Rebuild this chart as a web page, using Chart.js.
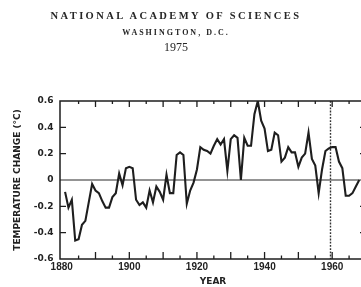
<!DOCTYPE html>
<html>
<head>
<meta charset="utf-8">
<script src="https://cdn.jsdelivr.net/npm/chart.js@4.4.1/dist/chart.umd.min.js"></script>
<style>
html,body{margin:0;padding:0;background:#fff;overflow:hidden;width:361px;height:287px;}
#wrap{position:absolute;left:0;top:0;width:380px;height:287px;}
.h{position:absolute;left:0;width:352px;text-align:center;color:#262626;font-family:"Liberation Serif","Times New Roman",serif;white-space:nowrap;z-index:2;}
#h1{top:10px;font-size:10.5px;line-height:12px;font-weight:bold;letter-spacing:2.4px;}
#h2{top:28.3px;font-size:8px;line-height:10px;font-weight:bold;letter-spacing:2px;}
#h3{top:39.8px;font-size:12px;line-height:14px;}
</style>
</head>
<body>
<div class="h" id="h1">NATIONAL ACADEMY OF SCIENCES</div>
<div class="h" id="h2">WASHINGTON, D.C.</div>
<div class="h" id="h3">1975</div>
<div id="wrap"><canvas id="c" width="380" height="287"></canvas></div>
<script>
// ---- data ----
const years = [1881,1882,1883,1884,1885,1886,1887,1888,1889,1890,
  1891,1892,1893,1894,1895,1896,1897,1898,1899,1900,
  1901,1902,1903,1904,1905,1906,1907,1908,1909,1910,
  1911,1912,1913,1914,1915,1916,1917,1918,1919,1920,
  1921,1922,1923,1924,1925,1926,1927,1928,1929,1930,
  1931,1932,1933,1934,1935,1936,1937,1938,1939,1940,
  1941,1942,1943,1944,1945,1946,1947,1948,1949,1950,
  1951,1952,1953,1954,1955,1956,1957,1958,1959,1960,
  1961,1962,1963,1964,1965,1966,1967,1968];
const tempChange = [-0.09,-0.21,-0.15,-0.46,-0.45,-0.34,-0.31,-0.17,-0.03,-0.08,
  -0.10,-0.16,-0.21,-0.21,-0.13,-0.10,0.05,-0.04,0.09,0.10,
  0.09,-0.15,-0.19,-0.17,-0.21,-0.08,-0.17,-0.05,-0.09,-0.15,
  0.04,-0.10,-0.10,0.19,0.21,0.19,-0.18,-0.08,-0.02,0.08,
  0.25,0.23,0.22,0.20,0.26,0.31,0.27,0.31,0.07,0.31,
  0.34,0.32,0.00,0.32,0.26,0.26,0.50,0.60,0.45,0.39,
  0.22,0.23,0.36,0.34,0.14,0.17,0.25,0.21,0.21,0.10,
  0.17,0.20,0.36,0.16,0.11,-0.10,0.08,0.22,0.24,0.25,
  0.25,0.14,0.09,-0.12,-0.12,-0.10,-0.05,0.00];
const xLabelYears = [1880,1900,1920,1940,1960];
const xMarkYears = [1885,1890,1895,1900,1905,1910,1915,1920,1925,1930,1935,1940,1945,1950,1955,1960,1965];
const yTickValues = [-0.6,-0.4,-0.2,0,0.2,0.4,0.6];
const yMarkValues = [-0.4,-0.2,0.2,0.4];
const xRange = [1879.5, 1970];
const yRange = [-0.6, 0.6];
const markerYear = 1959.5;

const INK = '#1e1e1e';

const decor = {
  id: 'decor',
  beforeDatasetsDraw(chart) {
    const {ctx, chartArea: {left, right, top, bottom}, scales: {x, y}} = chart;
    ctx.save();
    // zero line
    const y0 = y.getPixelForValue(0);
    ctx.strokeStyle = '#2a2a2a';
    ctx.lineWidth = 1.1;
    ctx.beginPath(); ctx.moveTo(left, y0); ctx.lineTo(right, y0); ctx.stroke();
    // dotted marker
    const xm = x.getPixelForValue(markerYear);
    ctx.setLineDash([1.8, 1.4]);
    ctx.lineWidth = 1.4;
    ctx.strokeStyle = '#333';
    ctx.beginPath(); ctx.moveTo(xm, top); ctx.lineTo(xm, bottom); ctx.stroke();
    ctx.restore();
  },
  afterDatasetsDraw(chart) {
    const {ctx, chartArea: {left, right, top, bottom}, scales: {x, y}} = chart;
    ctx.save();
    ctx.strokeStyle = INK;
    ctx.lineWidth = 1.5;
    ctx.strokeRect(left, top, right - left, bottom - top);
    ctx.lineWidth = 1.3;
    ctx.beginPath();
    xMarkYears.forEach(yr => {
      const px = x.getPixelForValue(yr);
      const major = yr % 10 === 0;
      ctx.moveTo(px, bottom); ctx.lineTo(px, bottom - (major ? 7 : 3.5));
      ctx.moveTo(px, top); ctx.lineTo(px, top + (major ? 6 : 3));
    });
    yMarkValues.forEach(v => {
      const py = y.getPixelForValue(v);
      ctx.moveTo(left, py); ctx.lineTo(left + 6, py);
      ctx.moveTo(right, py); ctx.lineTo(right - 6, py);
    });
    ctx.stroke();
    ctx.restore();
  }
};

new Chart(document.getElementById('c'), {
  type: 'line',
  data: {
    datasets: [{
      data: years.map((yr, i) => ({x: yr, y: tempChange[i]})),
      borderColor: INK,
      borderWidth: 2.1,
      pointRadius: 0,
      tension: 0,
      fill: false
    }]
  },
  options: {
    responsive: false,
    devicePixelRatio: 1,
    animation: false,
    layout: {padding: {top: 101, right: 14, left: 0, bottom: 0}},
    plugins: {legend: {display: false}, tooltip: {enabled: false}},
    scales: {
      x: {
        type: 'linear',
        min: xRange[0], max: xRange[1],
        afterBuildTicks: s => { s.ticks = xLabelYears.map(v => ({value: v})); },
        afterFit: s => { s.height = 28; },
        grid: {display: false, drawTicks: false},
        border: {display: false},
        ticks: {
          autoSkip: false, maxRotation: 0, padding: 2,
          color: '#222',
          font: {family: 'Liberation Sans', weight: 'bold', size: 10},
          callback: v => String(v)
        },
        title: {
          display: true, text: 'YEAR', color: '#222',
          font: {family: 'DejaVu Sans', weight: 'bold', size: 9},
          padding: {top: 0, bottom: 0}
        }
      },
      y: {
        type: 'linear',
        min: yRange[0], max: yRange[1],
        afterBuildTicks: s => { s.ticks = yTickValues.map(v => ({value: v})); },
        afterFit: s => { s.width = 60; },
        grid: {display: false, drawTicks: false},
        border: {display: false},
        ticks: {
          padding: 6.5, color: '#222',
          font: {family: 'DejaVu Sans', weight: 'bold', size: 9},
          callback: v => (v === 0 ? '0' : v.toFixed(1))
        },
        title: {
          display: true, text: 'TEMPERATURE CHANGE (°C)', color: '#222',
          font: {family: 'DejaVu Sans', weight: 'bold', size: 9},
          padding: {top: 12.6, bottom: 0}
        }
      }
    }
  },
  plugins: [decor]
});
</script>
</body>
</html>
